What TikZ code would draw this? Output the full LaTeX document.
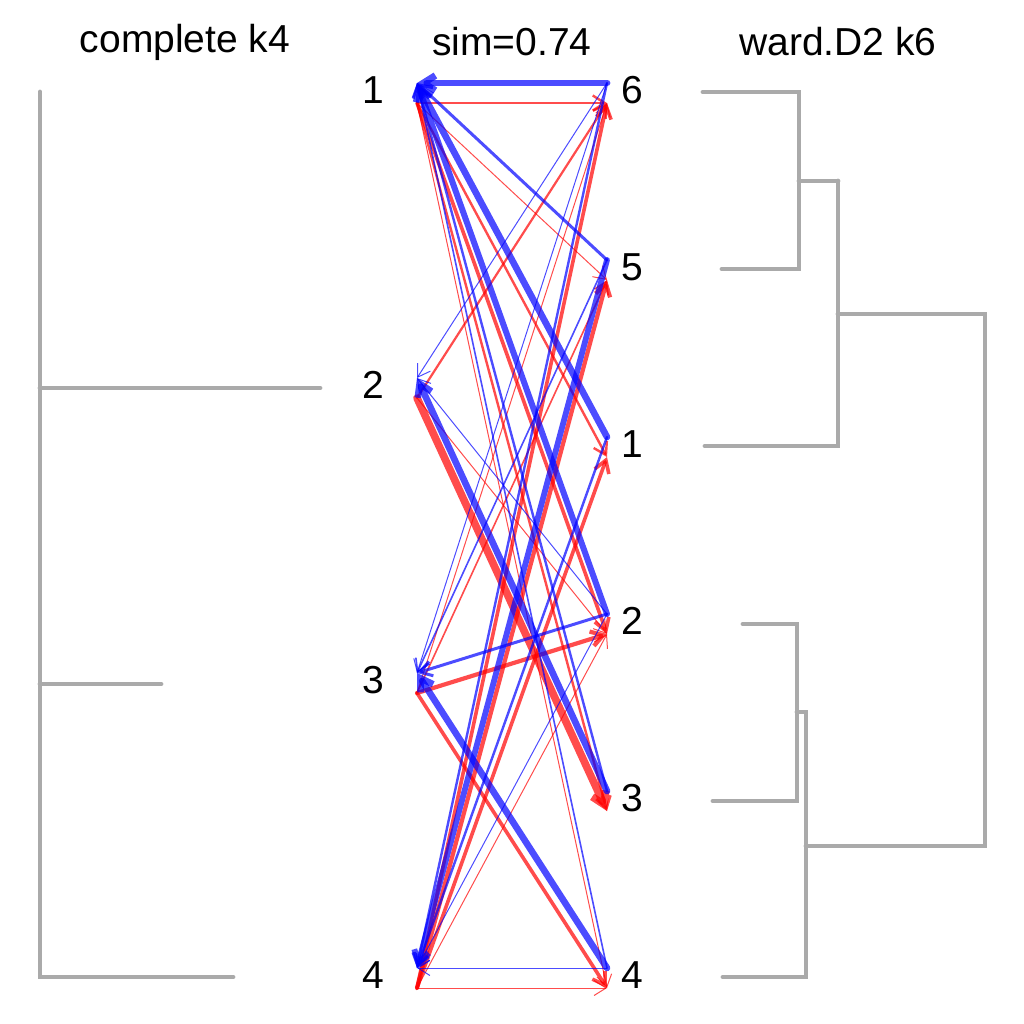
\documentclass[tikz,border=0pt]{standalone}
\usepackage{fontspec}
\setmainfont{Liberation Sans}
\usetikzlibrary{arrows.meta}
\definecolor{dgray}{HTML}{AAAAAA}
\begin{document}
\begin{tikzpicture}[x=0.5pt,y=-0.5pt,
  lab/.style={font=\fontsize{19.5}{22}\selectfont, inner sep=0pt},
  dend/.style={draw=dgray, line width=2.4pt, line cap=round, line join=miter},
  lnk/.style={line cap=round, -{Straight Barb[length=6pt,width=7.5pt]}},
  bl/.style={lnk, draw=blue, opacity=0.7},
  rd/.style={lnk, draw=red, opacity=0.7}]
\useasboundingbox (0,0) rectangle (1024,1024);
% titles
\node[lab] (t1) at (185,42) {complete k4};
\node[lab] (t2) at (512,42) {sim=0.74};
\node[lab] (t3) at (838,42) {ward.D2 k6};
% left cluster labels and anchors
\foreach \i/\y in {1/90,2/385,3/680,4/975}{
  \node[lab] (l\i) at (373,\y) {\i};
  \coordinate (Lb\i) at (417,\y-7);
  \coordinate (Lr\i) at (417,\y+13);
}
% right cluster labels and anchors
\foreach \j/\y in {6/90,5/267,1/444,2/621,3/798,4/975}{
  \node[lab] (r\j) at (632,\y) {\j};
  \coordinate (Rb\j) at (607,\y-7);
  \coordinate (Rr\j) at (607,\y+13);
}
% red links: left -> right (width in pt)
\foreach \l/\r/\w in {1/6/1.2, 1/5/0.5, 1/1/1.2, 1/2/1.8, 1/3/1.2, 1/4/0.5,
                      2/6/1.1, 2/2/0.5, 2/3/3.8,
                      3/6/0.5, 3/5/0.8, 3/2/2.1, 3/4/1.8,
                      4/6/1.8, 4/5/2.1, 4/1/1.8, 4/2/0.5, 4/4/0.5}{
  \draw[rd, line width=\w pt] (Lr\l) -- (Rr\r);
}
% blue links: right -> left
\foreach \r/\l/\w in {6/1/3.4, 6/2/0.5, 6/3/0.5, 6/4/1.2,
                      5/1/1.5, 5/3/0.8, 5/4/2.9,
                      1/1/3.3, 1/4/1.2,
                      2/1/3.0, 2/2/0.5, 2/3/1.5, 2/4/0.5,
                      3/1/1.2, 3/2/3.3,
                      4/1/0.8, 4/3/3.3, 4/4/0.5}{
  \draw[bl, line width=\w pt] (Rb\r) -- (Lb\l);
}
% left dendrogram
\draw[dend] (40,92) -- (40,977) -- (233,977);
\draw[dend] (40,388) -- (320,388);
\draw[dend] (40,684) -- (161,684);
% right dendrogram
\draw[dend] (703,92) -- (799,92) -- (799,269) -- (722,269);
\draw[dend] (799,181) -- (838,181);
\draw[dend] (838,181) -- (838,446) -- (705,446);
\draw[dend] (838,314) -- (985,314) -- (985,846) -- (806,846);
\draw[dend] (743,624) -- (797,624) -- (797,801) -- (713,801);
\draw[dend] (797,712) -- (806,712) -- (806,977) -- (723,977);
\end{tikzpicture}
\end{document}
